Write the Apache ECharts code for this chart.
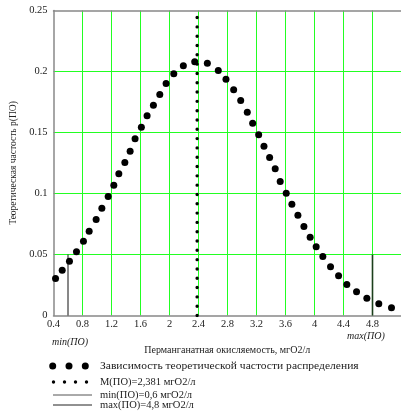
<!DOCTYPE html>
<html><head><meta charset="utf-8">
<script src="https://cdn.jsdelivr.net/npm/echarts@6/dist/echarts.min.js"></script>
<style>html,body{margin:0;padding:0;background:#fff}#c{width:401px;height:415px}</style>
</head><body><div id="c"></div>
<script>
// Data
const xVals = [0.428,0.520,0.620,0.717,0.813,0.892,0.988,1.067,1.154,1.232,1.301,1.384,1.457,1.525,1.612,1.691,1.778,1.866,1.953,2.059,2.191,2.348,2.522,2.673,2.779,2.885,2.982,3.073,3.147,3.230,3.303,3.381,3.458,3.527,3.610,3.688,3.771,3.854,3.940,4.023,4.115,4.221,4.332,4.446,4.580,4.722,4.887,5.062];
const pVals = [0.0303,0.0371,0.0445,0.0522,0.0609,0.0691,0.0787,0.0880,0.0975,0.1068,0.1161,0.1254,0.1347,0.1448,0.1543,0.1637,0.1724,0.1811,0.1902,0.1981,0.2047,0.2080,0.2068,0.2008,0.1937,0.1850,0.1762,0.1666,0.1576,0.1481,0.1388,0.1295,0.1202,0.1098,0.1002,0.0912,0.0822,0.0730,0.0642,0.0563,0.0484,0.0399,0.0325,0.0254,0.0194,0.0142,0.0096,0.0063];
const meanPO = 2.381;
const minPO = 0.6;
const maxPO = 4.8;
const markerHeight = 0.05;
const xTickLabels = ['0.4','0.8','1.2','1.6','2','2.4','2.8','3.2','3.6','4','4.4','4.8'];
const yTickLabels = ['0','0.05','0.1','0.15','0.2','0.25'];
const legendTexts = ['Зависимость теоретической частости распределения','M(ПО)=2,381 мгО2/л','min(ПО)=0,6 мгО2/л','max(ПО)=4,8 мгО2/л'];

const FONT = '"Liberation Serif","DejaVu Serif",serif';
const GREEN = '#22ff22';
const X_MAX = 0.4 + 347.5 / 72.5;
const chart = echarts.init(document.getElementById('c'), null, {renderer:'canvas'});
const pts = xVals.map((x,i)=>[x,pVals[i]]);

chart.setOption({
  animation:false,
  backgroundColor:'#fff',
  grid:{left:53.5,right:0,top:10.5,bottom:99.5},
  xAxis:[{
    type:'value',min:0.4,max:X_MAX,interval:0.4,
    axisLine:{lineStyle:{color:'#888',width:1.5}},
    axisTick:{show:false},
    axisLabel:{fontFamily:FONT,fontSize:10.5,color:'#222',margin:3,showMaxLabel:false,
      formatter:(v)=>{const s=xTickLabels.find(t=>Math.abs(parseFloat(t)-v)<1e-6);return s||'';}},
    splitLine:{show:true,showMinLine:false,showMaxLine:false,lineStyle:{color:GREEN,width:1,opacity:1}},
    name:'Перманганатная окисляемость, мгО2/л',nameLocation:'middle',nameGap:30,
    nameTextStyle:{fontFamily:FONT,fontSize:10,color:'#222'}
  },{
    type:'value',position:'top',min:0.4,max:X_MAX,interval:0.4,
    axisLine:{show:true,lineStyle:{color:'#888',width:1.5}},
    axisTick:{show:false},axisLabel:{show:false},splitLine:{show:false}
  }],
  yAxis:{
    type:'value',min:0,max:0.25,interval:0.05,
    axisLine:{show:true,lineStyle:{color:'#888',width:1.5}},
    axisTick:{show:false},
    axisLabel:{fontFamily:FONT,fontSize:10.5,color:'#222',margin:6,
      formatter:(v)=>{const s=yTickLabels.find(t=>Math.abs(parseFloat(t)-v)<1e-6);return s||'';}},
    splitLine:{show:true,showMinLine:false,showMaxLine:false,lineStyle:{color:GREEN,width:1,opacity:1}},
    name:'Теоретическая частость p(ПО)',nameLocation:'middle',nameGap:30,
    nameTextStyle:{fontFamily:FONT,fontSize:9.5,color:'#222'}
  },
  series:[
    {type:'line',data:[[minPO,0],[minPO,markerHeight]],symbol:'none',lineStyle:{color:'#111',width:1},z:3},
    {type:'line',data:[[maxPO,0],[maxPO,markerHeight]],symbol:'none',lineStyle:{color:'#1c401c',width:1.6},z:3},
    {type:'line',data:[[meanPO,0],[meanPO,0.25]],symbol:'none',
      lineStyle:{color:'#000',width:3.4,type:[0.01,9.3],cap:'round'},z:4},
    {type:'scatter',data:pts,symbol:'circle',symbolSize:7,itemStyle:{color:'#000',opacity:1},z:5}
  ],
  graphic:[
    {type:'text',left:52,top:337,style:{text:'min(ПО)',font:'italic 10px '+FONT,fill:'#222'}},
    {type:'text',left:347,top:331,style:{text:'max(ПО)',font:'italic 10px '+FONT,fill:'#222'}},
    {type:'circle',shape:{cx:52.7,cy:366,r:3.5},style:{fill:'#000'}},
    {type:'circle',shape:{cx:69,cy:366,r:3.5},style:{fill:'#000'}},
    {type:'circle',shape:{cx:85.3,cy:366,r:3.5},style:{fill:'#000'}},
    {type:'text',x:100,y:366,scaleX:1.1,style:{text:legendTexts[0],font:'10.5px '+FONT,fill:'#222',verticalAlign:'middle'}},
    {type:'circle',shape:{cx:53.5,cy:382,r:1.7},style:{fill:'#000'}},
    {type:'circle',shape:{cx:64.5,cy:382,r:1.7},style:{fill:'#000'}},
    {type:'circle',shape:{cx:75.5,cy:382,r:1.7},style:{fill:'#000'}},
    {type:'circle',shape:{cx:86.5,cy:382,r:1.7},style:{fill:'#000'}},
    {type:'text',x:100,y:382,style:{text:legendTexts[1],font:'10.5px '+FONT,fill:'#222',verticalAlign:'middle'}},
    {type:'line',shape:{x1:53,y1:395,x2:92,y2:395},style:{stroke:'#555',lineWidth:1}},
    {type:'text',x:100,y:395,style:{text:legendTexts[2],font:'10.5px '+FONT,fill:'#222',verticalAlign:'middle'}},
    {type:'line',shape:{x1:53,y1:405,x2:92,y2:405},style:{stroke:'#222',lineWidth:1}},
    {type:'text',x:100,y:405,style:{text:legendTexts[3],font:'10.5px '+FONT,fill:'#222',verticalAlign:'middle'}}
  ]
});
</script></body></html>
